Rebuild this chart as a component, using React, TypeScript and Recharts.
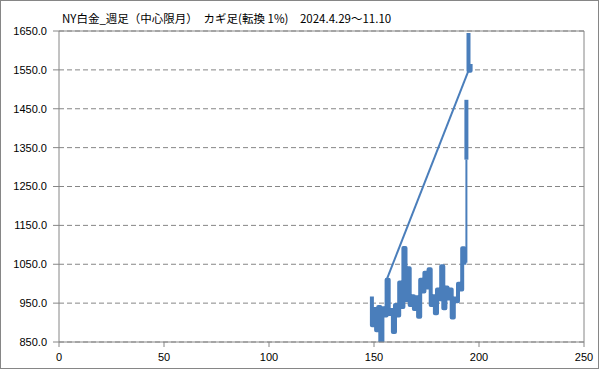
import React from 'react';
import { LineChart, Line, XAxis, YAxis, CartesianGrid, ReferenceLine } from 'recharts';

// Kagi chart: NY platinum weekly, reversal 1%
const titleText = 'NY白金_週足（中心限月）　カギ足(転換 1%)　2024.4.29～11.10';

const xTicks = [0, 50, 100, 150, 200, 250];
const yTicks = [850, 950, 1050, 1150, 1250, 1350, 1450, 1550, 1650];

// first column index and opening price of the kagi line
const kagiStartX = 149;
const kagiStartValue = 967;
// successive turning prices (one per column, alternating direction)
const kagiTurns = [
  893, 935, 880, 940, 850, 937, 918, 1010, 922, 932,
  876, 945, 918, 1003, 940, 1092, 958, 1040, 945, 968,
  935, 965, 915, 1010, 980, 1028, 990, 1037, 945, 968,
  924, 985, 960, 1045, 937, 990, 962, 985, 913, 962,
  955, 1000, 985, 1091, 1054,
];

// final surge column
const surgeThin = [
  { x: 194, v: 1054 },
  { x: 194, v: 1319 },
];
const surgeThick = [
  { x: 194, v: 1319 },
  { x: 194, v: 1473 },
];
const topThick = [
  { x: 195, v: 1645 },
  { x: 195, v: 1548 },
  { x: 196, v: 1548 },
  { x: 196, v: 1565 },
];
const thinConnector = [
  { x: 156, v: 1010 },
  { x: 195, v: 1548 },
];

function buildKagi(x0: number, start: number, turns: number[]) {
  const pts: { x: number; v: number }[] = [{ x: x0, v: start }];
  turns.forEach((t, i) => {
    pts.push({ x: x0 + i, v: t });
    pts.push({ x: x0 + i + 1, v: t });
  });
  return pts;
}

const kagiMain = buildKagi(kagiStartX, kagiStartValue, kagiTurns);

const BLUE = '#4A7EBB';
const GRAY = '#868686';
const axisFont = { fontFamily: '"Liberation Sans", Arial, sans-serif', fontSize: 11, fill: '#000' };

export default function App() {
  return (
    <div style={{ position: 'absolute', left: 0, top: 0, width: 599, height: 369, background: '#fff' }}>
      <LineChart
        width={599}
        height={369}
        margin={{ top: 31, right: 15, bottom: 0, left: 0 }}
      >
        <CartesianGrid
          horizontal={true}
          vertical={false}
          stroke={GRAY}
          strokeDasharray="5 3"
        />
        <XAxis
          type="number"
          dataKey="x"
          domain={[0, 250]}
          ticks={xTicks}
          interval={0}
          height={27}
          stroke={GRAY}
          tickSize={5}
          tickMargin={6}
          tick={axisFont}
          allowDataOverflow
        />
        <YAxis
          type="number"
          dataKey="v"
          domain={[850, 1650]}
          ticks={yTicks}
          interval={0}
          width={59}
          stroke={GRAY}
          tickSize={6}
          tickMargin={6}
          tick={axisFont}
          tickFormatter={(v: number) => v.toFixed(1)}
          allowDataOverflow
        />
        <ReferenceLine y={1650} stroke={GRAY} strokeWidth={1} />
        <ReferenceLine x={250} stroke={GRAY} strokeWidth={1} />
        <Line
          data={kagiMain}
          dataKey="v"
          type="linear"
          stroke={BLUE}
          strokeWidth={4}
          strokeLinejoin="round"
          dot={false}
          activeDot={false}
          isAnimationActive={false}
        />
        <Line
          data={surgeThick}
          dataKey="v"
          type="linear"
          stroke={BLUE}
          strokeWidth={4}
          dot={false}
          activeDot={false}
          isAnimationActive={false}
        />
        <Line
          data={topThick}
          dataKey="v"
          type="linear"
          stroke={BLUE}
          strokeWidth={4}
          strokeLinejoin="round"
          dot={false}
          activeDot={false}
          isAnimationActive={false}
        />
        <Line
          data={surgeThin}
          dataKey="v"
          type="linear"
          stroke={BLUE}
          strokeWidth={2}
          dot={false}
          activeDot={false}
          isAnimationActive={false}
        />
        <Line
          data={thinConnector}
          dataKey="v"
          type="linear"
          stroke={BLUE}
          strokeWidth={2}
          dot={false}
          activeDot={false}
          isAnimationActive={false}
        />
      </LineChart>
      <div
        style={{
          position: 'absolute',
          left: 62,
          top: 12,
          fontFamily: '"Noto Sans CJK JP", sans-serif',
          fontSize: 11.5,
          lineHeight: '12px',
          whiteSpace: 'nowrap',
          color: '#000',
        }}
      >
        {titleText}
      </div>
      <div
        style={{
          position: 'absolute',
          left: 0,
          top: 0,
          width: 599,
          height: 369,
          boxSizing: 'border-box',
          border: `1px solid ${GRAY}`,
          pointerEvents: 'none',
        }}
      />
    </div>
  );
}
